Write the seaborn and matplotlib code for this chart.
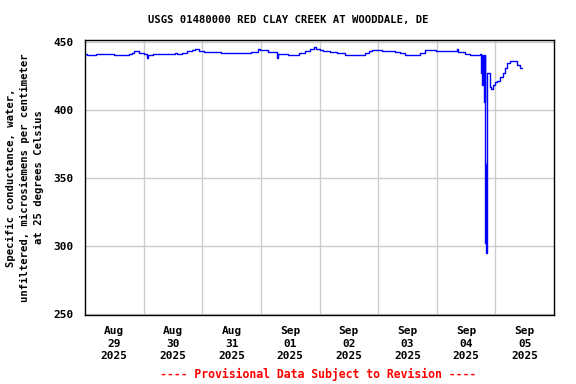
import pandas as pd

import matplotlib
matplotlib.use("Agg")

import matplotlib.pyplot as plt

import seaborn as sns


# ==========================================
# DATA (hours after 2025-08-29 00:00, level held until next point)
# ==========================================

hours = [
    0.0, 0.7, 4.4, 11.7, 17.9, 19.1, 19.9, 22.0, 24.0, 25.2, 25.6,
    27.7, 36.7, 37.5, 39.5, 41.6, 43.6, 44.9, 46.5, 47.3, 48.9,
    55.5, 55.8, 66.5, 67.8, 71.0, 71.8, 75.1, 78.4, 78.8, 79.1,
    82.9, 87.8, 90.2, 92.3, 93.9, 94.7, 96.4, 97.6, 100.5, 103.3,
    106.6, 108.2, 114.8, 116.4, 117.6, 121.7, 127.0, 129.1, 131.2,
    137.3, 139.3, 142.2, 143.8, 152.4, 152.8, 155.6, 157.7, 161.8,
    162.2, 162.4, 162.6, 162.8, 163.4, 163.6, 163.8, 163.9, 164.0,
    164.1, 164.2, 164.4, 164.6, 165.8, 166.3, 167.1, 167.9, 168.7,
    169.9, 171.2, 172.0, 172.8, 174.1, 175.7, 176.9, 178.1, 179.0
]

conductance = [
    440.9, 440.2, 440.9, 440.2, 440.9, 441.7, 443.1, 441.7, 440.9,
    438.0, 440.2, 440.9, 441.7, 440.9, 441.7, 443.4, 444.1, 444.6,
    443.4, 443.1, 442.6, 442.1, 441.7, 441.7, 442.9, 444.6, 444.1,
    442.6, 441.7, 438.0, 440.9, 440.2, 441.7, 443.6, 444.6, 446.1,
    444.6, 444.1, 443.4, 442.3, 441.7, 440.5, 440.2, 441.7, 443.1,
    443.8, 443.1, 442.3, 441.7, 440.5, 441.7, 443.8, 444.1, 443.1,
    444.6, 442.3, 441.2, 440.4, 441.2, 427.4, 440.4, 418.4, 440.4,
    406.1, 440.4, 362.7, 302.0, 360.0, 301.0, 294.6, 330.0, 427.4,
    417.2, 415.2, 418.0, 420.4, 421.6, 424.5, 427.5, 430.5, 434.3,
    435.8, 435.8, 433.1, 430.7, 430.7
]

day_labels = [
    "Aug\n29\n2025", "Aug\n30\n2025", "Aug\n31\n2025", "Sep\n01\n2025",
    "Sep\n02\n2025", "Sep\n03\n2025", "Sep\n04\n2025", "Sep\n05\n2025"
]

y_ticks = [250, 300, 350, 400, 450]


# ==========================================
# BUILD FRAME
# ==========================================

start = pd.Timestamp("2025-08-29 00:00")

dataframe = pd.DataFrame({
    "time": start + pd.to_timedelta(hours, unit="h"),
    "value": conductance
})


# ==========================================
# PLOT
# ==========================================

sns.set_style("white")

plt.rcParams["font.family"] = ["DejaVu Sans Mono", "DejaVu Sans"]
plt.rcParams["text.color"] = "black"
plt.rcParams["axes.labelcolor"] = "black"
plt.rcParams["xtick.color"] = "black"
plt.rcParams["ytick.color"] = "black"

fig = plt.figure(figsize=(5.76, 3.84), dpi=100)

ax = fig.add_axes([0.1476, 0.1797, 0.8142, 0.7174])

sns.lineplot(
    data=dataframe,
    x="time",
    y="value",
    ax=ax,
    color="#0000ff",
    linewidth=1.0,
    drawstyle="steps-post",
    estimator=None,
    sort=False
)

ax.set_xlim(start, start + pd.Timedelta(days=8))

ax.set_ylim(249, 451.8)

# labels at noon, grid at midnight
noon_ticks = [start + pd.Timedelta(hours=12 + 24 * i) for i in range(8)]
midnight_ticks = [start + pd.Timedelta(days=i) for i in range(1, 8)]

ax.set_xticks(noon_ticks)
ax.set_xticklabels(day_labels, fontsize=8, fontweight="bold", linespacing=1.32)
ax.set_xticks(midnight_ticks, minor=True)

ax.set_yticks(y_ticks)
ax.set_yticklabels([str(v) for v in y_ticks], fontsize=8, fontweight="bold")

ax.grid(False)
ax.grid(True, which="minor", axis="x", color="#cccccc", linewidth=1.0)
ax.grid(True, which="major", axis="y", color="#cccccc", linewidth=1.0)

ax.tick_params(axis="x", which="both", length=0, pad=8, colors="black")
ax.tick_params(axis="y", which="both", length=0, pad=8, colors="black")

for spine in ax.spines.values():
    spine.set_color("black")
    spine.set_linewidth(1.0)

ax.set_xlabel("")

ax.set_ylabel(
    "Specific conductance, water,\n"
    "unfiltered, microsiemens per centimeter\n"
    "at 25 degrees Celsius",
    fontsize=7.6,
    fontweight="bold",
    linespacing=1.5,
    labelpad=7,
    color="black"
)

fig.text(
    0.5,
    1 - 20 / 384,
    "USGS 01480000 RED CLAY CREEK AT WOODDALE, DE",
    fontsize=7.6,
    fontweight="bold",
    ha="center",
    va="center",
    color="black"
)

fig.text(
    0.553,
    0.007,
    "---- Provisional Data Subject to Revision ----",
    color="red",
    fontsize=8.3,
    fontweight="bold",
    ha="center",
    va="bottom"
)

fig.savefig("out.png", dpi=100)
